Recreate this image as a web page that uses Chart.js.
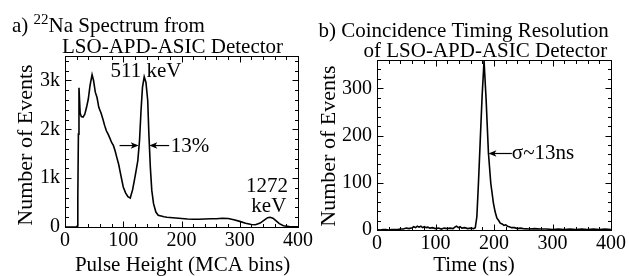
<!DOCTYPE html>
<html><head><meta charset="utf-8">
<script src="https://cdn.jsdelivr.net/npm/chart.js@4/dist/chart.umd.min.js"></script>
<style>
html,body{margin:0;padding:0;background:#fff;}
#wrap{position:relative;width:629px;height:276px;overflow:hidden;}
#c1{position:absolute;left:0;top:0;}
#c2{position:absolute;left:315px;top:0;}
</style></head><body>
<div id="wrap"><canvas id="c1" width="315" height="276"></canvas><canvas id="c2" width="314" height="276"></canvas></div>
<script>
// ---- Panel a: 22Na spectrum ----
const spectrumBins = [0,10,20,21,22,23,24,25,26,28,31,34,37,40,43,46.5,49,52,55,58,62,65,68,71,74,77,80,83,86,89,92,96,100,104,108,112,116,119,122,125,128,130.5,133,136,139,142,144,146.5,149,152,156,160,165,170,175,180,190,200,210,220,230,240,250,260,270,280,290,300,310,320,327,335,342,348,352,357,362,368,375,385,400];
const spectrumCounts = [0,0,0,20,600,1900,2850,2600,2330,2260,2250,2310,2450,2620,2900,3116,3000,2760,2650,2450,2330,2210,2080,1970,1900,1820,1730,1670,1560,1420,1290,1050,820,700,620,592,760,950,1150,1360,1780,2380,2857,3075,2959,2590,1906,1224,749,477,306,240,225,210,200,195,185,175,165,160,160,165,170,170,180,175,150,115,75,50,45,80,140,190,200,180,130,70,25,10,5];
const spectrumXTicks = [0,100,200,300,400];
const spectrumYTicks = [0,1000,2000,3000];
const spectrumNotes = [
  {text:'511 keV', x:139, y:3061, align:'center'},
  {text:'13%', x:181.6, y:1531, align:'left'},
  {text:'1272', x:383, y:714, align:'right'},
  {text:'keV', x:380, y:306, align:'right'}
];
const spectrumArrows = [
  {x0:93.6, x1:126.5, y:1667},
  {x0:178.7, x1:144.7, y:1667}
];

// ---- Panel b: coincidence timing ----
const timeNs = [0,5,10,15,20,25,30,35,40,45,50,55,60,63,66,69,72,75,78,81,84,87,90,95,100,105,110,115,120,125,130,133,136,139,142,145,150,155,160,165,168,170.7,173.4,176.3,179.7,183,186.5,190.5,194.5,199,202,205,208,211,214,217,220,223,226,230,235,240,245,250,260,270,280,290,300,310,320,330,340,350,360,370,380,390,400];
const timeCounts = [1,0,1,1,0,1,1,1,2,2,4,3,5,7,5,8,6,8,5,7,5,6,4,5,3,4,2,4,3,4,3,6,8,5,7,4,5,3,4,3,5,28,99,184,284,358,277,163,99,57,38,25,20,14,13,10,11,8,7,5,5,3,4,3,2,3,2,2,1,2,1,2,1,2,1,2,1,2,1];
const timeXTicks = [0,100,200,300,400];
const timeYTicks = [0,100,200,300];
const timeNotes = [
  {text:'\u03c3~13ns', x:230.5, y:150, align:'left'}
];
const timeArrows = [
  {x0:230.5, x1:190.5, y:162}
];

const FONT = "'Liberation Serif','Times New Roman',Times,serif";

const decorPlugin = {
  id: 'decor',
  afterDraw(chart, args, o) {
    const ctx = chart.ctx, a = chart.chartArea, xs = chart.scales.x, ys = chart.scales.y;
    ctx.save();
    ctx.strokeStyle = '#000'; ctx.fillStyle = '#000'; ctx.lineWidth = 1;
    const L = Math.round(a.left) + 0.5, R = Math.round(a.right) + 0.5;
    const T = Math.round(a.top) + 0.5, B = Math.round(a.bottom) + 0.5;
    ctx.strokeRect(L, T, R - L, B - T);
    ctx.beginPath();
    for (let v = xs.min; v <= xs.max + 1e-6; v += o.xMinor) {
      const p = Math.round(xs.getPixelForValue(v)) + 0.5;
      const len = (Math.abs(v % o.xMajor) < 1e-6) ? 6 : 3.5;
      ctx.moveTo(p, B); ctx.lineTo(p, B - len);
      ctx.moveTo(p, T); ctx.lineTo(p, T + len);
    }
    for (let v = ys.min; v <= ys.max + 1e-6; v += o.yMinor) {
      const p = Math.round(ys.getPixelForValue(v)) + 0.5;
      const len = (Math.abs(v % o.yMajor) < 1e-6) ? 6 : 3.5;
      ctx.moveTo(L, p); ctx.lineTo(L + len, p);
      ctx.moveTo(R, p); ctx.lineTo(R - len, p);
    }
    ctx.stroke();
    // arrows
    ctx.lineWidth = 1.2;
    for (const ar of o.arrows) {
      const x0 = xs.getPixelForValue(ar.x0), x1 = xs.getPixelForValue(ar.x1), y = ys.getPixelForValue(ar.y);
      const d = Math.sign(x1 - x0);
      ctx.beginPath(); ctx.moveTo(x0, y); ctx.lineTo(x1 - d * 3, y); ctx.stroke();
      ctx.beginPath(); ctx.moveTo(x1, y); ctx.lineTo(x1 - d * 8, y - 3.2); ctx.lineTo(x1 - d * 6, y); ctx.lineTo(x1 - d * 8, y + 3.2); ctx.closePath(); ctx.fill();
    }
    // notes
    ctx.font = '21px ' + FONT; ctx.textBaseline = 'alphabetic';
    for (const n of o.notes) {
      ctx.textAlign = n.align;
      ctx.fillText(n.text, xs.getPixelForValue(n.x), ys.getPixelForValue(n.y));
    }
    // titles
    for (const t of o.texts) {
      ctx.font = t.size + 'px ' + FONT;
      ctx.textAlign = t.align || 'left';
      if (t.rot) {
        ctx.save(); ctx.translate(t.x, t.y); ctx.rotate(-Math.PI / 2);
        ctx.fillText(t.text, 0, 0); ctx.restore();
      } else {
        ctx.fillText(t.text, t.x, t.y);
      }
    }
    ctx.restore();
  }
};

function makeChart(el, xs, ys, c) {
  return new Chart(el, {
    type: 'line',
    data: { datasets: [{ data: xs.map((x, i) => ({ x: x, y: ys[i] })), borderColor: '#000', borderWidth: 1.6, pointRadius: 0, tension: 0, fill: false }] },
    options: {
      responsive: false, animation: false, events: [],
      layout: { padding: c.pad },
      plugins: { legend: { display: false }, tooltip: { enabled: false }, decor: c.decor },
      scales: {
        x: {
          type: 'linear', min: c.xTicks[0], max: c.xTicks[c.xTicks.length - 1],
          afterFit: s => { s.height = c.xH; },
          afterBuildTicks: s => { s.ticks = c.xTicks.map(v => ({ value: v })); },
          grid: { display: false, drawTicks: false }, border: { display: false },
          ticks: { autoSkip: false, maxRotation: 0, padding: 2, color: '#000', font: { family: FONT, size: 20 } }
        },
        y: {
          type: 'linear', min: c.yTicks[0], max: c.yMax,
          afterFit: s => { s.width = c.yW; },
          afterBuildTicks: s => { s.ticks = c.yTicks.map(v => ({ value: v })); },
          grid: { display: false, drawTicks: false }, border: { display: false },
          ticks: { autoSkip: false, padding: 5, color: '#000', font: { family: FONT, size: 20 }, callback: c.yFmt }
        }
      }
    },
    plugins: [decorPlugin]
  });
}

makeChart(document.getElementById('c1'), spectrumBins, spectrumCounts, {
  pad: { top: 56, right: 15, left: 0, bottom: 0 }, xH: 49, yW: 65, yMax: 3500,
  xTicks: spectrumXTicks, yTicks: spectrumYTicks,
  yFmt: v => (v === 0 ? '0' : (v / 1000) + 'k'),
  decor: {
    xMinor: 20, xMajor: 100, yMinor: 200, yMajor: 1000,
    notes: spectrumNotes, arrows: spectrumArrows,
    texts: [
      { text: 'a)', x: 12, y: 32, size: 21 },
      { text: '22', x: 33.5, y: 24, size: 15 },
      { text: 'Na Spectrum from', x: 48.5, y: 32, size: 21 },
      { text: 'LSO-APD-ASIC Detector', x: 62, y: 53, size: 21 },
      { text: 'Pulse Height (MCA bins)', x: 182.5, y: 271, size: 21, align: 'center' },
      { text: 'Number of Events', x: 32, y: 145, size: 22, align: 'center', rot: true }
    ]
  }
});

makeChart(document.getElementById('c2'), timeNs, timeCounts, {
  pad: { top: 60, right: 18, left: 0, bottom: 0 }, xH: 46, yW: 62, yMax: 360,
  xTicks: timeXTicks, yTicks: timeYTicks,
  yFmt: v => String(v),
  decor: {
    xMinor: 20, xMajor: 100, yMinor: 20, yMajor: 100,
    notes: timeNotes, arrows: timeArrows,
    texts: [
      { text: 'b) Coincidence Timing Resolution', x: 3.5, y: 37, size: 21 },
      { text: 'of LSO-APD-ASIC Detector', x: 48.5, y: 56.5, size: 21 },
      { text: 'Time (ns)', x: 159, y: 271, size: 21, align: 'center' },
      { text: 'Number of Events', x: 20, y: 146, size: 22, align: 'center', rot: true }
    ]
  }
});
</script>
</body></html>
